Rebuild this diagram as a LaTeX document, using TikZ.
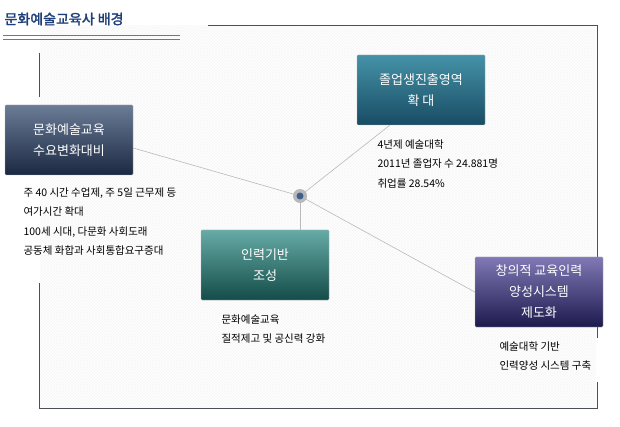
\documentclass[tikz,border=0pt]{standalone}
\usepackage{fontspec}
\newfontfamily\kr{Noto Sans CJK KR}
\newfontfamily\krbold[FakeBold=2]{Noto Sans CJK KR}
\usetikzlibrary{patterns,positioning}
\definecolor{titleblue}{HTML}{1F3F7A}
\definecolor{framegray}{HTML}{4A4F5A}
\definecolor{navytop}{HTML}{6B7C96}
\definecolor{navybot}{HTML}{1B2842}
\definecolor{tealtop}{HTML}{4592A8}
\definecolor{tealbot}{HTML}{184C63}
\definecolor{greentop}{HTML}{66ABA6}
\definecolor{greenbot}{HTML}{134C48}
\definecolor{purptop}{HTML}{8079B5}
\definecolor{purpbot}{HTML}{1D1A4E}
\definecolor{hubblue}{HTML}{3F5F8F}
\tikzset{
  topic/.style={minimum width=128pt, minimum height=70pt, align=center,
    text=white, font=\kr\fontsize{13}{21}\selectfont, draw=gray!60, rounded corners=1pt},
  navybox/.style={topic, top color=navytop, bottom color=navybot},
  tealbox/.style={topic, top color=tealtop, bottom color=tealbot},
  greenbox/.style={topic, top color=greentop, bottom color=greenbot},
  purplebox/.style={topic, top color=purptop, bottom color=purpbot},
  note/.style={anchor=north west, align=left, font=\kr\fontsize{10.5}{19.5}\selectfont},
  link/.style={draw=gray!55, line width=0.6pt},
  frame/.style={draw=framegray, line width=0.7pt},
}
\begin{document}
\begin{tikzpicture}[x=1pt,y=-1pt]
  \useasboundingbox (0,0) rectangle (620,427);
  % background
  \fill[pattern=crosshatch, pattern color=gray!7] (40,26) rectangle (596,407);
  % title
  \node[anchor=west, font=\krbold\fontsize{14}{16}\selectfont, text=titleblue] (title) at (1,19) {문화예술교육사 배경};
  \draw[titleblue!70, line width=1pt] (3,36) -- (180,36);
  \draw[titleblue!70, line width=1pt] (3,39.5) -- (180,39.5);
  % frame
  \draw[frame] (208,25) -- (597,25) -- (597,257);
  \draw[frame] (597,327) -- (597,338);
  \draw[frame] (597,382) -- (597,408) -- (39,408) -- (39,283);
  \draw[frame] (39,53) -- (39,97);
  % hub
  \coordinate (hub) at (300,196);
  % topics
  \node[navybox] (demand) at (69,140) {문화예술교육\\수요변화대비};
  \node[tealbox] (field) at (421,90) {졸업생진출영역\\확 대};
  \node[greenbox] (base) at (265,265) {인력기반\\조성};
  \node[purplebox] (system) at (539,292) {창의적 교육인력\\양성시스템\\제도화};
  % links
  \draw[link] (demand.east) ++(0,8) -- (hub);
  \draw[link] (field.south west) ++(33,0) -- (hub);
  \draw[link] (hub) -- (hub |- base.north);
  \draw[link] (hub) -- (system.west);
  \fill[gray!55] (hub) circle (7pt);
  \fill[hubblue] (hub) circle (3.5pt);
  % notes
  \node[note] (demandtxt) at (20,184) {주 40 시간 수업제, 주 5일 근무제 등\\여가시간 확대\\100세 시대, 다문화 사회도래\\공동체 화합과 사회통합요구증대};
  \node[note] (fieldtxt) at (374,136) {4년제 예술대학\\2011년 졸업자 수 24.881명\\취업률 28.54\%};
  \node[note] (basetxt) at (218,311) {문화예술교육\\질적제고 및 공신력 강화};
  \node[note] (systemtxt) at (496,338) {예술대학 기반\\인력양성 시스템 구축};
\end{tikzpicture}
\end{document}
